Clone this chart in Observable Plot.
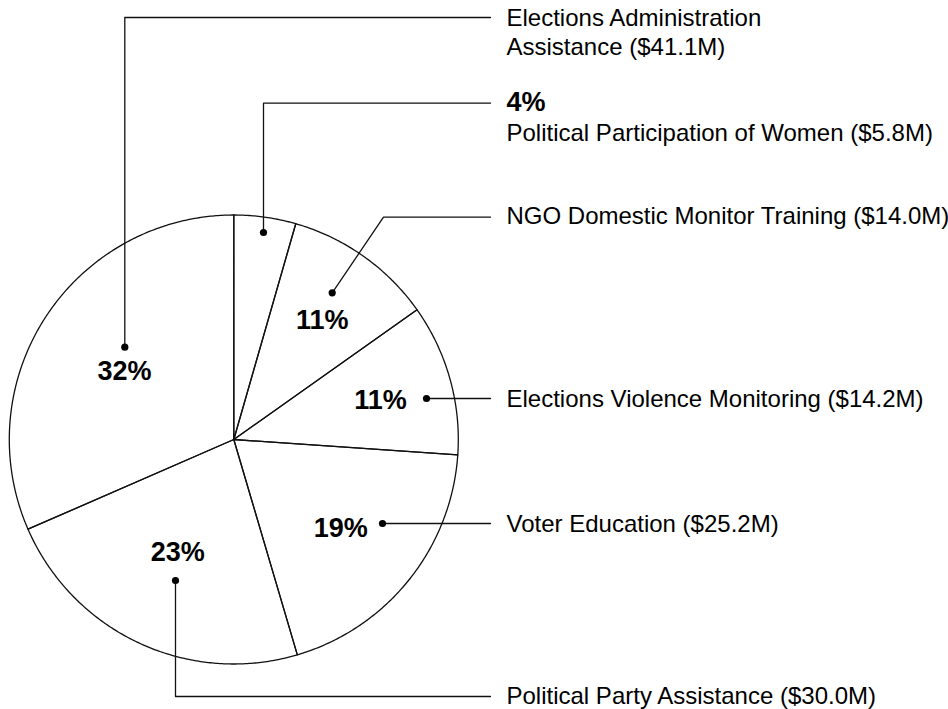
<!DOCTYPE html>
<html>
<head>
<meta charset="utf-8">
<script src="https://cdn.jsdelivr.net/npm/d3@7"></script>
<script src="https://cdn.jsdelivr.net/npm/@observablehq/plot@0.6"></script>
<style>
  html, body { margin: 0; padding: 0; background: #fff; }
  #chart svg { display: block; }
</style>
</head>
<body>
<div id="chart"></div>
<script>
// ---- Data ----
const categories = [
  "Political Participation of Women",
  "NGO Domestic Monitor Training",
  "Elections Violence Monitoring",
  "Voter Education",
  "Political Party Assistance",
  "Elections Administration Assistance"
];
const amounts = [5.8, 14.0, 14.2, 25.2, 30.0, 41.1]; // $ millions

// ---- Layout (pixel positions for the pie and annotations) ----
const W = 948, H = 709;
const cx = 233.3, cy = 439, R = 224.5;
const FONT = "'Liberation Sans', Arial, Helvetica, sans-serif";
const textX = 506, lineEndX = 490;
const layout = [
  {dot: [263, 232], path: [[263, 102.7], [lineEndX, 102.7]], labelBase: 140, pctInline: true, pctBase: 110.7},
  {dot: [331.7, 292.3], path: [[383, 216.7], [lineEndX, 216.7]], labelBase: 223.3, pctPos: [321.7, 328]},
  {dot: [426, 398], path: [[lineEndX, 398]], labelBase: 406.7, pctPos: [380, 408.3]},
  {dot: [382, 523], path: [[lineEndX, 523]], labelBase: 531.5, pctPos: [340.3, 536]},
  {dot: [175, 580], path: [[175, 696], [lineEndX, 696]], labelBase: 703.3, pctPos: [177.3, 560]},
  {dot: [124.3, 346.7], path: [[124.3, 17], [lineEndX, 17]], labelBase: 54, wrapAfter: "Administration", pctPos: [124, 379]}
];

const total = d3.sum(amounts);
const rows = categories.map((c, i) => ({
  name: c,
  amount: amounts[i],
  pctText: Math.round(amounts[i] / total * 100) + "%",
  label: c + " ($" + amounts[i].toFixed(1) + "M)",
  ...layout[i]
}));

// pie geometry from d3.pie (clockwise from 12 o'clock)
const arcs = d3.pie().sort(null).value(d => d.amount)(rows);
const piePts = [];
arcs.forEach((a, i) => {
  piePts.push({slice: i, x: cx, y: cy});
  const steps = Math.max(2, Math.ceil((a.endAngle - a.startAngle) / (Math.PI / 360)));
  for (let k = 0; k <= steps; k++) {
    const t = a.startAngle + (a.endAngle - a.startAngle) * k / steps;
    piePts.push({slice: i, x: cx + R * Math.sin(t), y: cy - R * Math.cos(t)});
  }
  piePts.push({slice: i, x: cx, y: cy});
});

// leader lines
const leaderPts = [];
rows.forEach((r, i) => {
  leaderPts.push({z: i, x: r.dot[0], y: r.dot[1]});
  r.path.forEach(p => leaderPts.push({z: i, x: p[0], y: p[1]}));
});

// right-hand labels
const rightLabels = rows.map(r => {
  let text = r.label;
  if (r.wrapAfter) text = text.replace(r.wrapAfter + " ", r.wrapAfter + "\n");
  return {text, y: r.labelBase};
});
const pctInsideData = rows.filter(r => !r.pctInline).map(r => ({text: r.pctText, x: r.pctPos[0], y: r.pctPos[1]}));
const pctInlineData = rows.filter(r => r.pctInline).map(r => ({text: r.pctText, y: r.pctBase}));

const chart = Plot.plot({
  width: W,
  height: H,
  margin: 0,
  style: {fontFamily: FONT, background: "#fff", overflow: "visible"},
  x: {domain: [0, W], range: [0, W], axis: null},
  y: {domain: [0, H], range: [0, H], axis: null},
  marks: [
    Plot.line(piePts, {x: "x", y: "y", z: "slice", stroke: "#111", strokeWidth: 1.3, curve: "linear", strokeLinejoin: "round"}),
    Plot.line(leaderPts, {x: "x", y: "y", z: "z", stroke: "#111", strokeWidth: 1.3, curve: "linear"}),
    Plot.dot(rows, {x: d => d.dot[0], y: d => d.dot[1], r: 3.6, fill: "#000", stroke: "none"}),
    Plot.text(rightLabels, {x: () => textX, y: "y", text: "text", textAnchor: "start", lineAnchor: "bottom", lineHeight: 1.2, fontSize: 24, fill: "#000"}),
    Plot.text(pctInlineData, {x: () => textX, y: "y", text: "text", textAnchor: "start", lineAnchor: "bottom", fontSize: 27, fontWeight: "bold", fill: "#000"}),
    Plot.text(pctInsideData, {x: "x", y: "y", text: "text", textAnchor: "middle", lineAnchor: "bottom", fontSize: 27, fontWeight: "bold", fill: "#000"})
  ]
});
document.getElementById("chart").appendChild(chart);
</script>
</body>
</html>
